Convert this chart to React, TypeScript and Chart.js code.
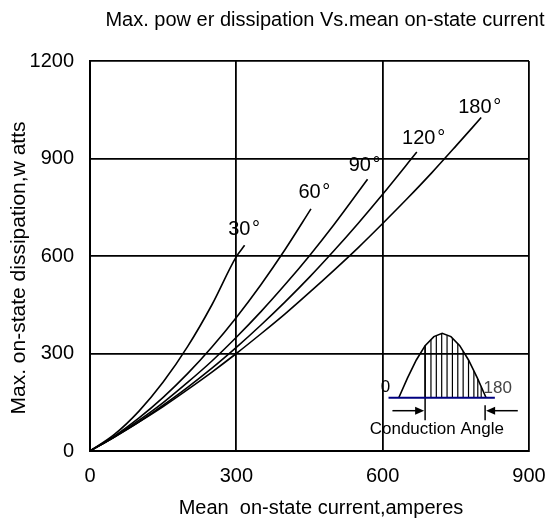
import { useEffect, useRef } from 'react';
import { Chart, registerables } from 'chart.js';

Chart.register(...registerables);

const FONT = "'Liberation Sans', Arial, sans-serif";

const CHART_TITLE = 'Max. pow er dissipation Vs.mean on-state current';
const X_TITLE = 'Mean  on-state current,amperes';
const Y_TITLE = 'Max. on-state dissipation,w atts';

const X_TICKS = [0, 300, 600, 900];
const Y_TICKS = [0, 300, 600, 900, 1200];

// Curves: mean on-state current (A) vs max power dissipation (W)
const curve30X = [0, 50, 100, 150, 200, 250, 300, 317];
const curve30Y = [0, 51, 122, 212, 321, 450, 598, 633];

const curve60X = [0, 50, 100, 150, 200, 250, 300, 350, 400, 453];
const curve60Y = [0, 46, 101, 165, 238, 320, 411, 511, 620, 745];

const curve90X = [0, 50, 100, 150, 200, 250, 300, 350, 400, 450, 500, 569];
const curve90Y = [0, 44, 94, 149, 211, 277, 350, 428, 512, 601, 696, 836];

const curve120X = [0, 50, 100, 150, 200, 250, 300, 350, 400, 450, 500, 550, 600, 670];
const curve120Y = [0, 43, 89, 141, 196, 255, 319, 387, 459, 535, 616, 701, 790, 920];

const curve180X = [0, 50, 100, 150, 200, 250, 300, 350, 400, 450, 500, 550, 600, 650, 700, 750, 802];
const curve180Y = [0, 43, 89, 137, 189, 243, 300, 360, 422, 488, 556, 626, 700, 776, 855, 938, 1026];

// Angle labels (data coordinates of label centres)
const angleLabels = ['30\u200A°', '60\u200A°', '90\u200A°', '120\u200A°', '180\u200A°'];
const angleLabelX = [316, 460, 563, 684, 799];
const angleLabelY = [683, 794, 877, 963, 1058];

// Inset "conduction angle" sketch, in data coordinates
const insetBaseX = [612, 830];
const insetBaseY = 164;
const insetWaveX = [633, 651, 669, 687, 705, 722, 740, 758, 776, 794, 812];
const insetWaveY = [164, 225, 280, 324, 352, 362, 352, 324, 280, 225, 164];
const insetHatchX = [687, 699, 710, 721, 732, 743, 754, 765, 776, 787, 795, 802];
const insetStartX = 687;
const insetEndX = 810;
const insetMarkY = [95, 141];
const insetArrowY = 124;
const insetArrowLeftX = [620, 687];
const insetArrowRightX = [877, 810];
const insetZeroLabel = { text: '0', x: 606, y: 197 };
const insetEndLabel = { text: '180', x: 836, y: 194 };
const insetCaption = { text: 'Conduction Angle', x: 711, y: 68 };

const toPoints = (xs: number[], ys: number[]) => xs.map((x, i) => ({ x, y: ys[i] }));

const waveAt = (x: number) => {
  for (let i = 0; i < insetWaveX.length - 1; i++) {
    const x0 = insetWaveX[i];
    const x1 = insetWaveX[i + 1];
    if (x >= x0 && x <= x1) {
      const t = (x - x0) / (x1 - x0);
      return insetWaveY[i] + t * (insetWaveY[i + 1] - insetWaveY[i]);
    }
  }
  return insetBaseY;
};

const overlayPlugin = {
  id: 'overlay',
  afterDatasetsDraw(chart: any) {
    const ctx: CanvasRenderingContext2D = chart.ctx;
    const xs = chart.scales.x;
    const ys = chart.scales.y;
    const px = (v: number) => xs.getPixelForValue(v);
    const py = (v: number) => ys.getPixelForValue(v);
    ctx.save();

    // angle labels
    ctx.fillStyle = '#000';
    ctx.font = `20px ${FONT}`;
    ctx.textAlign = 'center';
    ctx.textBaseline = 'middle';
    angleLabels.forEach((t, i) => ctx.fillText(t, px(angleLabelX[i]), py(angleLabelY[i])));

    // inset: hatch lines
    ctx.strokeStyle = '#000';
    ctx.lineWidth = 1.2;
    insetHatchX.forEach((hx) => {
      ctx.beginPath();
      ctx.moveTo(px(hx), py(insetBaseY));
      ctx.lineTo(px(hx), py(waveAt(hx)));
      ctx.stroke();
    });

    // start and end marks
    ctx.lineWidth = 1.5;
    ctx.beginPath();
    ctx.moveTo(px(insetStartX), py(waveAt(insetStartX)));
    ctx.lineTo(px(insetStartX), py(insetMarkY[0]));
    ctx.stroke();
    ctx.beginPath();
    ctx.moveTo(px(insetEndX), py(insetMarkY[1]));
    ctx.lineTo(px(insetEndX), py(insetMarkY[0]));
    ctx.stroke();

    // wave
    ctx.lineWidth = 1.6;
    ctx.beginPath();
    insetWaveX.forEach((wx, i) => {
      if (i === 0) ctx.moveTo(px(wx), py(insetWaveY[i]));
      else ctx.lineTo(px(wx), py(insetWaveY[i]));
    });
    ctx.stroke();

    // baseline
    ctx.strokeStyle = '#000080';
    ctx.lineWidth = 2;
    ctx.beginPath();
    ctx.moveTo(px(insetBaseX[0]), py(insetBaseY));
    ctx.lineTo(px(insetBaseX[1]), py(insetBaseY));
    ctx.stroke();

    // arrows
    const arrow = (fromX: number, toX: number) => {
      const y = py(insetArrowY);
      const x0 = px(fromX);
      const x1 = px(toX);
      const dir = Math.sign(x1 - x0);
      ctx.strokeStyle = '#000';
      ctx.fillStyle = '#000';
      ctx.lineWidth = 1.5;
      ctx.beginPath();
      ctx.moveTo(x0, y);
      ctx.lineTo(x1 - dir * 8, y);
      ctx.stroke();
      ctx.beginPath();
      ctx.moveTo(x1 - 1 * dir, y);
      ctx.lineTo(x1 - dir * 10, y - 4);
      ctx.lineTo(x1 - dir * 10, y + 4);
      ctx.closePath();
      ctx.fill();
    };
    arrow(insetArrowLeftX[0], insetArrowLeftX[1]);
    arrow(insetArrowRightX[0], insetArrowRightX[1]);

    // inset texts
    ctx.fillStyle = '#000';
    ctx.font = `17px ${FONT}`;
    ctx.textAlign = 'center';
    ctx.textBaseline = 'middle';
    ctx.fillText(insetZeroLabel.text, px(insetZeroLabel.x), py(insetZeroLabel.y));
    ctx.fillStyle = '#444';
    ctx.fillText(insetEndLabel.text, px(insetEndLabel.x), py(insetEndLabel.y));
    ctx.fillStyle = '#000';
    ctx.fillText(insetCaption.text, px(insetCaption.x), py(insetCaption.y));

    ctx.restore();
  },
  afterDraw(chart: any) {
    const ctx: CanvasRenderingContext2D = chart.ctx;
    ctx.save();
    ctx.fillStyle = '#000';
    ctx.textBaseline = 'middle';
    ctx.textAlign = 'center';
    ctx.font = `20px ${FONT}`;
    ctx.fillText(CHART_TITLE, 325, 20);
    ctx.fillText(X_TITLE, 321, 508);
    ctx.font = `21px ${FONT}`;
    ctx.translate(19, 268);
    ctx.rotate(-Math.PI / 2);
    ctx.fillText(Y_TITLE, 0, 0);
    ctx.restore();
  },
};

export default function App() {
  const ref = useRef<HTMLCanvasElement | null>(null);

  useEffect(() => {
    if (!ref.current) return;
    const mk = (xs: number[], ys: number[]) => ({
      data: toPoints(xs, ys),
      borderColor: '#000',
      borderWidth: 1.6,
      pointRadius: 0,
      fill: false,
      cubicInterpolationMode: 'monotone' as const,
    });
    const chart = new Chart(ref.current, {
      type: 'line',
      data: {
        datasets: [
          mk(curve30X, curve30Y),
          mk(curve60X, curve60Y),
          mk(curve90X, curve90Y),
          mk(curve120X, curve120Y),
          mk(curve180X, curve180Y),
        ],
      },
      options: {
        responsive: false,
        animation: false,
        devicePixelRatio: 1,
        layout: { padding: { top: 61, right: 21, bottom: 0, left: 0 } },
        plugins: {
          legend: { display: false },
          tooltip: { enabled: false },
          title: { display: false },
        },
        scales: {
          x: {
            type: 'linear',
            min: 0,
            max: 900,
            afterBuildTicks: (s: any) => {
              s.ticks = X_TICKS.map((v) => ({ value: v }));
            },
            afterFit: (s: any) => {
              s.height = 73;
            },
            grid: {
              color: '#000',
              lineWidth: 1.8,
              drawTicks: true,
              tickLength: 13,
              tickColor: 'rgba(0,0,0,0)',
            },
            border: { display: true, color: '#000', width: 2 },
            ticks: {
              padding: 0,
              color: '#000',
              font: { family: FONT, size: 20 },
              maxRotation: 0,
              callback: (v: any) => String(v),
            },
          },
          y: {
            type: 'linear',
            min: 0,
            max: 1200,
            afterBuildTicks: (s: any) => {
              s.ticks = Y_TICKS.map((v) => ({ value: v }));
            },
            afterFit: (s: any) => {
              s.width = 90;
            },
            grid: {
              color: '#000',
              lineWidth: 1.8,
              drawTicks: true,
              tickLength: 16,
              tickColor: 'rgba(0,0,0,0)',
            },
            border: { display: true, color: '#000', width: 2 },
            ticks: {
              padding: 0,
              color: '#000',
              font: { family: FONT, size: 20 },
              callback: (v: any) => String(v),
            },
          },
        },
      },
      plugins: [overlayPlugin],
    });
    return () => chart.destroy();
  }, []);

  return (
    <canvas
      ref={ref}
      width={550}
      height={524}
      style={{ position: 'absolute', left: 0, top: 0, width: 550, height: 524, background: '#fff' }}
    />
  );
}
